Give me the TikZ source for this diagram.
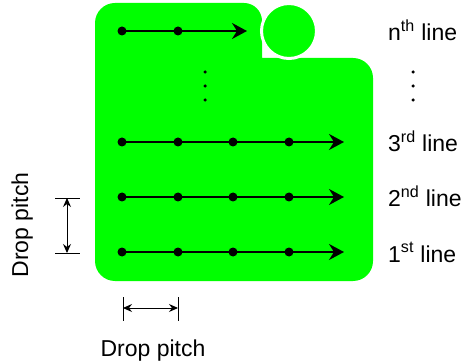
\documentclass[tikz,border=0pt]{standalone}
\usepackage{fontspec}
\setmainfont{Liberation Sans}
\usetikzlibrary{arrows.meta}
\definecolor{grn}{RGB}{0,255,0}
\begin{document}
\begin{tikzpicture}[x=1pt,y=-1pt,
 dot/.style={circle,fill=black,inner sep=0pt,minimum size=9pt},
 sdot/.style={circle,fill=black,inner sep=0pt,minimum size=3.5pt},
 lbl/.style={anchor=base west,font=\fontsize{23}{26}\selectfont,inner sep=0pt},
 dlbl/.style={anchor=base,font=\fontsize{23}{26}\selectfont,inner sep=0pt},
 row/.style={line width=1.9pt,-{Stealth[length=15pt,width=16pt,inset=5pt]}},
 dim/.style={line width=0.9pt,{Stealth[length=9pt,width=8pt,inset=3pt]}-{Stealth[length=9pt,width=8pt,inset=3pt]}},
 bar/.style={line width=0.9pt}]
\useasboundingbox (0,0) rectangle (465,363);
% green area
\fill[grn] (95,140) [rounded corners=20pt] -- (95,3) [rounded corners=18pt] -- (262,3) [sharp corners] -- (262,58) [rounded corners=20pt] -- (373,58) -- (373,281) -- (95,281) -- cycle;
\node[circle,fill=grn,draw=white,line width=3pt,inner sep=0pt,minimum size=55pt] (ball) at (289,31) {};
% rows
\foreach \r/\y in {1/252,2/197,3/142}{
  \node[dot] (d\r a) at (122,\y) {};
  \node[dot] (d\r b) at (178,\y) {};
  \node[dot] (d\r c) at (233,\y) {};
  \node[dot] (d\r d) at (289,\y) {};
  \coordinate (e\r) at (344,\y);
  \draw[row] (d\r a.center) -- (e\r);
}
\node[dot] (dna) at (122,31) {};
\node[dot] (dnb) at (178,31) {};
\coordinate (en) at (247,31);
\draw[row] (dna.center) -- (en);
% vertical dots
\node[sdot] (v1) at (205,72) {};
\node[sdot] (v2) at (205,86) {};
\node[sdot] (v3) at (205,100) {};
\node[sdot] (w1) at (413,72) {};
\node[sdot] (w2) at (413,86) {};
\node[sdot] (w3) at (413,100) {};
% labels
\node[lbl] (ln) at (388,41) {n\textsuperscript{th} line};
\node[lbl] (l3) at (388,152) {3\textsuperscript{rd} line};
\node[lbl] (l2) at (388,207) {2\textsuperscript{nd} line};
\node[lbl] (l1) at (388,262) {1\textsuperscript{st} line};
% vertical drop pitch
\coordinate (vt1) at (55,198); \coordinate (vt2) at (80,198);
\coordinate (vb1) at (55,253); \coordinate (vb2) at (80,253);
\coordinate (va) at (67,198); \coordinate (vb) at (67,253);
\draw[bar] (vt1) -- (vt2);
\draw[bar] (vb1) -- (vb2);
\draw[dim] (va) -- (vb);
\node[dlbl,rotate=90] (vl) at (28,225) {Drop pitch};
% horizontal drop pitch
\coordinate (hl1) at (123,297); \coordinate (hl2) at (123,321);
\coordinate (hr1) at (178,297); \coordinate (hr2) at (178,321);
\coordinate (ha) at (123,308); \coordinate (hb) at (178,308);
\draw[bar] (hl1) -- (hl2);
\draw[bar] (hr1) -- (hr2);
\draw[dim] (ha) -- (hb);
\node[dlbl] (hlab) at (153,356) {Drop pitch};
\end{tikzpicture}
\end{document}
